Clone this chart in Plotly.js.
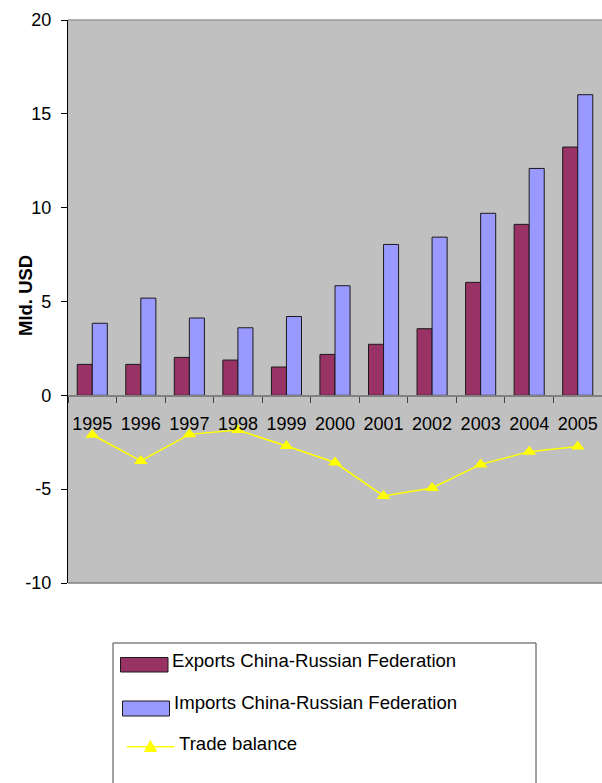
<!DOCTYPE html>
<html>
<head>
<meta charset="utf-8">
<script src="https://cdn.plot.ly/plotly-3.0.1.min.js"></script>
<style>
  html, body { margin: 0; padding: 0; background: #ffffff; }
  #chart { width: 602px; height: 783px; }
</style>
</head>
<body>
<div id="chart"></div>
<script>
// ---- data ----
const years = ["1995","1996","1997","1998","1999","2000","2001","2002","2003","2004","2005"];
const exportsCR = [1.65, 1.65, 2.02, 1.88, 1.51, 2.18, 2.72, 3.55, 6.02, 9.11, 13.23];
const importsCR = [3.84, 5.18, 4.12, 3.60, 4.20, 5.84, 8.04, 8.43, 9.70, 12.09, 16.02];
const tradeBalance = [-2.1, -3.5, -2.08, -1.85, -2.7, -3.58, -5.36, -4.94, -3.68, -3.0, -2.72];
const seriesNames = ["Exports China-Russian Federation", "Imports China-Russian Federation", "Trade balance"];
const yTitle = "Mld. USD";
const yTickVals = [-10, -5, 0, 5, 10, 15, 20];
const yTickText = ["-10", "-5", "0", "5", "10", "15", "20"];

// ---- geometry helpers (pixel -> paper) ----
const W = 602, H = 783;
const L = 68, R = 0, T = 20, B = 200;
const plotW = W - L - R, plotH = H - T - B;
const fx = px => (px - L) / plotW;
const fy = py => (H - B - py) / plotH;

const font = "Liberation Sans, Arial, sans-serif";
const colExp = "#993366", colImp = "#9999FF", colBal = "#FFFF00";

const traces = [
  {
    type: "bar", x: years, y: exportsCR, name: seriesNames[0],
    marker: { color: colExp, line: { color: "#1a1a1a", width: 1 } },
    hoverinfo: "x+y"
  },
  {
    type: "bar", x: years, y: importsCR, name: seriesNames[1],
    marker: { color: colImp, line: { color: "#1a1a1a", width: 1 } },
    hoverinfo: "x+y"
  },
  {
    type: "scatter", mode: "lines+markers", x: years, y: tradeBalance, name: seriesNames[2],
    line: { color: colBal, width: 1.5 },
    marker: { symbol: "triangle-up", size: 12, color: colBal },
    hoverinfo: "x+y"
  }
];

const shapes = [
  // plot top/bottom borders
  { type: "line", xref: "paper", yref: "paper", x0: 0, x1: 1, y0: 1, y1: 1, line: { color: "#999999", width: 1.5 } },
  { type: "line", xref: "paper", yref: "paper", x0: 0, x1: 1, y0: 0, y1: 0, line: { color: "#808080", width: 1.5 } },
  // legend box
  { type: "rect", xref: "paper", yref: "paper", x0: fx(113), x1: fx(536), y0: fy(643), y1: fy(800),
    line: { color: "#444444", width: 1 }, fillcolor: "#ffffff" },
  // legend swatches
  { type: "rect", xref: "paper", yref: "paper", x0: fx(120.5), x1: fx(168), y0: fy(657.5), y1: fy(672),
    line: { color: "#1a1a1a", width: 1 }, fillcolor: colExp },
  { type: "rect", xref: "paper", yref: "paper", x0: fx(122.5), x1: fx(169.5), y0: fy(701), y1: fy(716),
    line: { color: "#1a1a1a", width: 1 }, fillcolor: colImp },
  { type: "line", xref: "paper", yref: "paper", x0: fx(127), x1: fx(174.5), y0: fy(746.7), y1: fy(746.7),
    line: { color: colBal, width: 1.5 } },
  { type: "path", xref: "paper", yref: "paper",
    path: `M ${fx(144.5)} ${fy(751.5)} L ${fx(156.5)} ${fy(751.5)} L ${fx(150.5)} ${fy(740.5)} Z`,
    line: { color: colBal, width: 1 }, fillcolor: colBal }
];

const legFont = { family: font, size: 18.6, color: "#000" };
const annotations = [
  { xref: "paper", yref: "paper", x: fx(25), y: fy(296), text: "<b>" + yTitle + "</b>", textangle: -90,
    showarrow: false, font: { family: font, size: 18.5, color: "#000" }, xanchor: "center", yanchor: "middle" },
  { xref: "paper", yref: "paper", x: fx(170), y: fy(660), text: seriesNames[0], showarrow: false,
    xanchor: "left", yanchor: "middle", font: legFont },
  { xref: "paper", yref: "paper", x: fx(172), y: fy(702.5), text: seriesNames[1], showarrow: false,
    xanchor: "left", yanchor: "middle", font: legFont },
  { xref: "paper", yref: "paper", x: fx(177), y: fy(743), text: seriesNames[2], showarrow: false,
    xanchor: "left", yanchor: "middle", font: legFont }
];

const layout = {
  width: W, height: H,
  margin: { l: L, r: R, t: T, b: B, pad: 0 },
  paper_bgcolor: "#ffffff",
  plot_bgcolor: "#C0C0C0",
  showlegend: false,
  barmode: "group",
  bargap: 0.38,
  bargroupgap: 0,
  font: { family: font, size: 18, color: "#000" },
  xaxis: {
    type: "category",
    categoryorder: "array", categoryarray: years,
    range: [-0.5, years.length - 0.5],
    anchor: "free", position: 1 / 3,
    showline: true, linecolor: "#808080", linewidth: 1.5,
    ticks: "outside", tickson: "boundaries", ticklen: 6, tickcolor: "#404040", tickwidth: 1,
    tickangle: 0,
    showgrid: false, zeroline: false,
    tickfont: { family: font, size: 18, color: "#000" },
    ticklabelstandoff: 12,
    fixedrange: true
  },
  yaxis: {
    range: [-10, 20],
    tickvals: yTickVals, ticktext: yTickText,
    showline: true, linecolor: "#000", linewidth: 1.2,
    ticks: "outside", ticklen: 6, tickcolor: "#000", tickwidth: 1,
    showgrid: false, zeroline: false,
    tickfont: { family: font, size: 18, color: "#000" },
    ticklabelstandoff: 6,
    fixedrange: true
  },
  shapes: shapes,
  annotations: annotations
};

Plotly.newPlot("chart", traces, layout, { displayModeBar: false, staticPlot: true });
</script>
</body>
</html>
